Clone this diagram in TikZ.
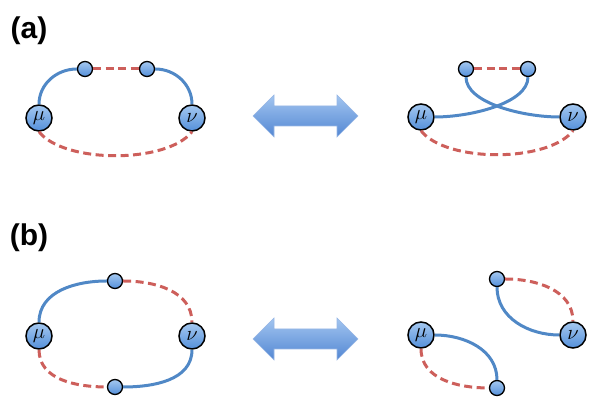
\documentclass[tikz,border=0pt]{standalone}
\usepackage{fontspec}
\setmainfont{Liberation Sans}
\definecolor{lineblue}{HTML}{5088C6}
\definecolor{linered}{HTML}{CD5F5B}
\definecolor{balltop}{HTML}{A4C8F0}
\definecolor{ballbot}{HTML}{5590DA}
\definecolor{arrtop}{HTML}{A2C5F0}
\definecolor{arrbot}{HTML}{5387D3}
\begin{document}
\begin{tikzpicture}[x=1pt,y=1pt,
  bignode/.style={circle,draw=black,line width=1.5pt,top color=balltop,bottom color=ballbot,minimum size=26pt,inner sep=0pt,font=\fontsize{22}{22}\selectfont},
  smallnode/.style={circle,draw=black,line width=1.3pt,top color=balltop,bottom color=ballbot,minimum size=15pt,inner sep=0pt},
  bline/.style={draw=lineblue,line width=3pt},
  rline/.style={draw=linered,line width=3pt,dash pattern=on 8pt off 4.5pt},
  dblarrow/.style={top color=arrtop,bottom color=arrbot,draw=arrbot!60!white,line width=0.6pt},
  panel/.style={font=\fontsize{30}{30}\selectfont\bfseries}]
  \useasboundingbox (0,0) rectangle (598,403);
  \node[panel] (la) at (29,372) {(a)};
  \node[panel] (lb) at (29,165) {(b)};
  \node[bignode] (mu1) at (39,285) {$\mu$};
  \node[bignode] (nu1) at (192,285) {$\nu$};
  \node[smallnode] (p1) at (85,334) {};
  \node[smallnode] (p2) at (147,334) {};
  \draw[bline] (mu1.north) to[out=90,in=180] (p1.west);
  \draw[rline] (p1.east) -- (p2.west);
  \draw[bline] (p2.east) to[out=0,in=90] (nu1.north);
  \draw[rline] (mu1.south) .. controls +(25,-32) and +(-25,-32) .. (nu1.south);
  \shade[dblarrow] (253,287) -- (274,308) -- (274,297) -- (337,297) -- (337,308) -- (358,287)
    -- (337,266) -- (337,277) -- (274,277) -- (274,266) -- cycle;
  \node[bignode] (mu2) at (421,286) {$\mu$};
  \node[bignode] (nu2) at (573,286) {$\nu$};
  \node[smallnode] (q1) at (466,334) {};
  \node[smallnode] (q2) at (528,334) {};
  \draw[rline] (q1.east) -- (q2.west);
  \draw[bline] (mu2.east) .. controls +(36,0) and +(0,-26) .. (q2.south);
  \draw[bline] (nu2.west) .. controls +(-36,0) and +(0,-26) .. (q1.south);
  \draw[rline] (mu2.south) .. controls +(25,-32) and +(-25,-32) .. (nu2.south);
  \node[bignode] (mu3) at (39,67) {$\mu$};
  \node[bignode] (nu3) at (192,67) {$\nu$};
  \node[smallnode] (p3) at (115,122) {};
  \node[smallnode] (p4) at (115,16) {};
  \draw[bline] (mu3.north) to[out=90,in=180] (p3.west);
  \draw[rline] (p3.east) to[out=0,in=90] (nu3.north);
  \draw[rline] (mu3.south) to[out=-90,in=180] (p4.west);
  \draw[bline] (p4.east) to[out=0,in=-90] (nu3.south);
  \shade[dblarrow] (253,64) -- (274,85) -- (274,74) -- (337,74) -- (337,85) -- (358,64)
    -- (337,43) -- (337,54) -- (274,54) -- (274,43) -- cycle;
  \node[bignode] (mu4) at (421,68) {$\mu$};
  \node[bignode] (nu4) at (573,68) {$\nu$};
  \node[smallnode] (q3) at (497,124) {};
  \node[smallnode] (q4) at (497,15) {};
  \draw[bline] (mu4.east) to[out=0,in=90] (q4.north);
  \draw[rline] (mu4.south) to[out=-90,in=180] (q4.west);
  \draw[bline] (q3.south) to[out=-90,in=180] (nu4.west);
  \draw[rline] (q3.east) to[out=0,in=90] (nu4.north);
\end{tikzpicture}
\end{document}
